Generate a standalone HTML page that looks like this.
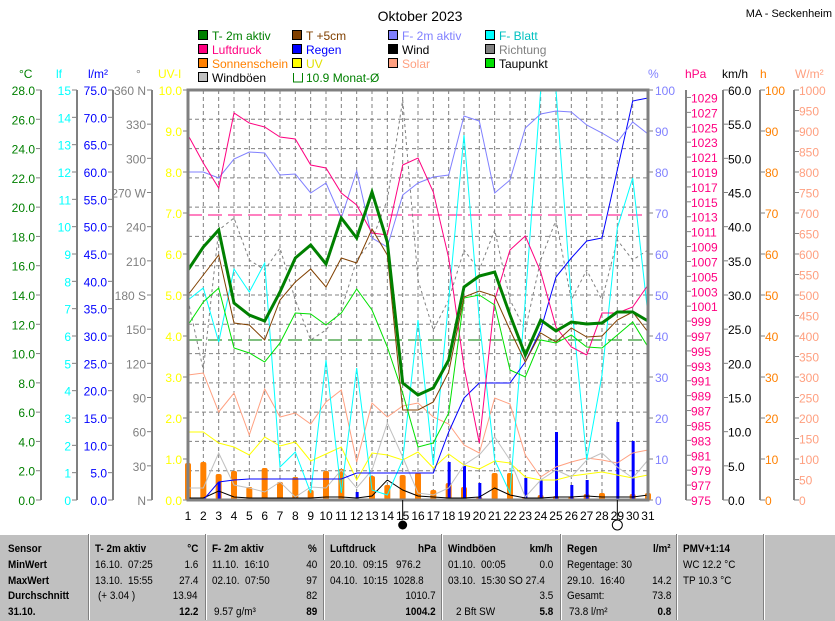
<!DOCTYPE html>
<html><head><meta charset="utf-8"><style>
body{margin:0;background:#fff;width:835px;height:620px;overflow:hidden;position:relative;font-family:"Liberation Sans",sans-serif}
#tbl{position:absolute;left:0;top:534px;width:835px;height:86px;background:#c0c0c0;border-top:1px solid #fff}
#tbl div{position:absolute;font-size:11px;white-space:nowrap;color:#000;transform:scaleX(0.9);transform-origin:left}
#tbl .b{font-weight:bold}
#tbl .r{transform-origin:right}
.sep{position:absolute;top:534px;width:1px;height:86px;background:#fff;border-left:1px solid #808080}
</style></head><body>
<svg id="s" width="835" height="620" style="position:absolute;left:0;top:0" font-family="Liberation Sans, sans-serif"></svg>
<div id="tbl"></div>
<script>
const S=document.getElementById('s');let h='';
const X=d=>188+(d-1)*15.333;
function t(x,y,s,c,a,sz){h+=`<text x="${x}" y="${y}" fill="${c}" font-size="${sz||12}" text-anchor="${a||'start'}">${s}</text>`;}
function pl(ys,c,w,dash){let p=ys.map((y,i)=>X(i+1).toFixed(1)+','+y).join(' ');h+=`<polyline points="${p}" fill="none" stroke="${c}" stroke-width="${w||1}" ${dash?'stroke-dasharray="'+dash+'"':''}/>`;}
t(420,21,'Oktober 2023','#000','middle',14);
t(832,17,'MA - Seckenheim','#000','end',11);
// legend
const L=[[198,40,'#008000','T- 2m aktiv','#008000'],[292,40,'#804000','T +5cm','#804000'],[388,40,'#8080ff','F- 2m aktiv','#8080ff'],[485,40,'#00ffff','F- Blatt','#00c0c0'],
[198,54,'#ff0080','Luftdruck','#ff0080'],[292,54,'#0000ff','Regen','#0000ff'],[388,54,'#000','Wind','#000'],[485,54,'#808080','Richtung','#808080'],
[198,68,'#ff8000','Sonnenschein','#ff8000'],[292,68,'#ffff00','UV','#e0e000'],[388,68,'#ffa080','Solar','#ffa080'],[485,68,'#00e000','Taupunkt','#000'],
[198,82,'#c0c0c0','Windböen','#000']];
L.forEach(l=>{h+=`<rect x="${l[0]+0.5}" y="${l[1]-9.5}" width="9" height="9" fill="${l[2]}" stroke="#000"/>`;t(l[0]+14,l[1],l[3],l[4]);});
h+=`<path d="M293.5,73 v9 h9 v-9" fill="none" stroke="#008000"/>`;t(306,82,'10.9 Monat-Ø','#008000');
// headers
[[25,'°C','#008000'],[62,'lf','#00ffff'],[88,'l/m²','#0000ff'],[136,'°','#808080'],[158,'UV-I','#ffff00'],[648,'%','#8080ff'],[685,'hPa','#ff0080'],[722,'km/h','#000'],[760,'h','#ff8000'],[795,'W/m²','#ffa080']].forEach(a=>t(a[0]+(a[0]<100&&a[0]!=88?-6:0),78,a[1],a[2]));
// plot grid
for(let d=2;d<=30;d++)h+=`<line x1="${X(d)}" y1="90" x2="${X(d)}" y2="500" stroke="#808080" stroke-dasharray="4,3"/>`;
for(let k=1;k<14;k++){let y=90+k*410/14;h+=`<line x1="188" y1="${y}" x2="648" y2="${y}" stroke="#808080" stroke-dasharray="4,3"/>`;}
// axis helper
function ax(lx,top,bot,vals,col,side,fmt){h+=`<line x1="${lx}" y1="${top}" x2="${lx}" y2="${bot}" stroke="#808080" stroke-width="2"/>`;
 vals.forEach((v,i)=>{let y=top+(bot-top)*i/(vals.length-1);
 if(side=='L'){h+=`<line x1="${lx-5}" y1="${y}" x2="${lx}" y2="${y}" stroke="#808080"/>`;t(lx-6,y+5,v,col,'end');}
 else{h+=`<line x1="${lx}" y1="${y}" x2="${lx+5}" y2="${y}" stroke="#808080"/>`;t(lx+5,y+5,v,col,'start');}});}
const rng=(a,b,s,f)=>{let r=[];for(let v=a;s>0?v<=b+1e-9:v>=b-1e-9;v+=s)r.push(f?v.toFixed(f):String(v));return r;};
ax(41,90,500,rng(28,0,-2,1),'#008000','R'.replace('R','L'));
// shift °C: labels left of line
ax(77,90,500,rng(15,0,-1),'#00ffff','L');
ax(113,90,500,rng(75,0,-5,1),'#0000ff','L');
ax(152,90,500,['360 N','330','300','270 W','240','210','180 S','150','120','90','60','30','N'],'#808080','L');
ax(188,90,500,rng(10,0,-1,1),'#ffff00','L');
ax(686,90,500,[],'#ff0080','R');
for(let v=1029;v>=975;v-=2){let y=500-(v-975)*410/55;h+=`<line x1="686" y1="${y}" x2="691" y2="${y}" stroke="#808080"/>`;t(691,y+5,v,'#ff0080');}
ax(723,90,500,rng(60,0,-5,1),'#000','R');
ax(760,90,500,rng(100,0,-10),'#ff8000','R');
ax(794,90,500,rng(1000,0,-50),'#ffa080','R');
for(let k=0;k<=10;k++){let y=90+k*41;h+=`<line x1="648" y1="${y}" x2="653" y2="${y}" stroke="#808080"/>`;t(655,y+5,100-k*10,'#8080ff');}
// ref dashed lines
h+=`<line x1="188" y1="215" x2="648" y2="215" stroke="#ff0080" stroke-dasharray="14,6"/>`;
h+=`<line x1="188" y1="340" x2="648" y2="340" stroke="#008000" stroke-dasharray="14,6"/>`;
// sun bars
const sun=[463,462,474,471,487,468,482,477,490,471,469,500,476,485,475,473,490,483,487,497,473,473,497,495,496,497,494,493,500,494,493];
sun.forEach((y,i)=>{if(y<500)h+=`<rect x="${X(i+1)-3}" y="${y}" width="6" height="${500-y}" rx="2" fill="#ff8000"/>`;});
// rain bars
[[3,482],[12,492],[18,462],[19,466],[20,483],[23,478],[24,480],[25,432],[26,485],[27,480],[29,422],[30,441]].forEach(r=>h+=`<rect x="${X(r[0])-1}" y="${r[1]}" width="3" height="${500-r[1]}" fill="#0000ff"/>`);
// series
pl([300,370,230,218,260,270,248,300,340,330,310,260,240,200,100,280,330,300,250,270,230,300,330,260,220,300,270,300,240,260,250],'#808080',1,'3,3');
pl([375,373,412,393,435,389,417,413,424,402,390,462,403,417,406,403,417,424,445,453,398,404,455,477,467,462,458,460,463,453,450],'#ffa080');
pl([432,432,443,447,455,437,446,442,461,454,447,480,453,455,460,452,468,454,465,469,461,463,477,480,480,476,474,472,475,478,475],'#ffff00');
pl([488,488,453,485,488,492,482,497,487,488,470,488,470,423,457,493,495,488,465,455,437,460,497,480,470,477,460,453,467,478,460],'#c0c0c0');
pl([498,498,491,497,498,498,498,498,498,497,497,498,496,480,490,496,497,498,498,497,488,495,498,498,497,497,496,497,497,497,495],'#000');
pl([300,288,342,269,292,263,467,452,493,360,493,368,490,495,460,320,465,300,135,320,460,493,300,90,90,300,460,375,228,178,315],'#00ffff');
pl([500,500,482,480,479,479,479,479,479,479,479,473,473,473,473,473,473,432,398,383,383,383,362,330,277,258,241,238,170,101,98],'#0000ff');
pl([172,172,178,159,152,153,175,174,193,183,218,171,238,247,195,183,177,175,116,121,193,180,128,114,111,112,125,133,142,122,134],'#8080ff');
pl([135,163,188,113,123,127,137,139,165,168,193,205,233,235,165,158,192,258,367,443,300,250,236,272,327,347,355,313,313,307,285],'#ff0080');
pl([325,302,288,348,353,362,343,313,314,325,313,289,310,347,393,447,443,413,298,295,305,370,377,340,343,335,347,348,335,322,347],'#00e000');
pl([295,275,255,323,325,340,300,282,269,287,258,263,229,255,410,410,402,372,297,291,296,330,362,333,342,328,337,336,320,312,332],'#804000');
pl([270,247,230,303,315,321,292,258,245,264,218,238,192,242,383,395,388,360,287,276,272,315,355,320,331,322,324,323,312,312,321],'#008000',3);
// border
h+=`<rect x="188" y="90" width="460" height="410" fill="none" stroke="#808080" stroke-width="3"/>`;
for(let d=1;d<=31;d++)t(X(d),520,d,'#000','middle');
h+=`<line x1="${X(15)}" y1="500" x2="${X(15)}" y2="520" stroke="#000"/><circle cx="${X(15)}" cy="525" r="4.5" fill="#000"/>`;
h+=`<line x1="${X(29)}" y1="500" x2="${X(29)}" y2="520" stroke="#000"/><circle cx="${X(29)}" cy="525" r="5" fill="#fff" stroke="#000"/>`;
S.innerHTML=h;
// table
const T=document.getElementById('tbl');let g='';
const ys=[8,24,40,55,71];
function c(x,r,s,b,right){g+=`<div class="${b?'b':''} ${right?'r':''}" style="${right?'right:'+(835-x):'left:'+x}px;top:${ys[r]}px">${s}</div>`;}
['Sensor','MinWert','MaxWert','Durchschnitt','31.10.'].forEach((s,i)=>c(8,i,s,1));
c(95,0,'T- 2m aktiv',1);c(198,0,'°C',1,1);c(95,1,'16.10.&nbsp; 07:25');c(198,1,'1.6',0,1);c(95,2,'13.10.&nbsp; 15:55');c(198,2,'27.4',0,1);c(98,3,'(+ 3.04 )');c(198,3,'13.94',0,1);c(198,4,'12.2',1,1);
c(212,0,'F- 2m aktiv',1);c(317,0,'%',1,1);c(212,1,'11.10.&nbsp; 16:10');c(317,1,'40',0,1);c(212,2,'02.10.&nbsp; 07:50');c(317,2,'97',0,1);c(317,3,'82',0,1);c(214,4,'9.57 g/m³');c(317,4,'89',1,1);
c(330,0,'Luftdruck',1);c(436,0,'hPa',1,1);c(330,1,'20.10.&nbsp; 09:15&nbsp;&nbsp; 976.2');c(330,2,'04.10.&nbsp; 10:15&nbsp; 1028.8');c(436,3,'1010.7',0,1);c(436,4,'1004.2',1,1);
c(448,0,'Windböen',1);c(553,0,'km/h',1,1);c(448,1,'01.10.&nbsp; 00:05');c(553,1,'0.0',0,1);c(448,2,'03.10.&nbsp; 15:30 SO 27.4');c(553,3,'3.5',0,1);c(456,4,'2 Bft SW');c(553,4,'5.8',1,1);
c(567,0,'Regen',1);c(671,0,'l/m²',1,1);c(567,1,'Regentage: 30');c(567,2,'29.10.&nbsp; 16:40');c(671,2,'14.2',0,1);c(567,3,'Gesamt:');c(671,3,'73.8',0,1);c(569,4,'73.8 l/m²');c(671,4,'0.8',1,1);
c(683,0,'PMV+1:14',1);c(683,1,'WC 12.2 °C');c(683,2,'TP 10.3 °C');
T.innerHTML=g;
[88,205,323,441,560,676,763].forEach(x=>{let d=document.createElement('div');d.className='sep';d.style.left=x+'px';document.body.appendChild(d);});
</script>
</body></html>
